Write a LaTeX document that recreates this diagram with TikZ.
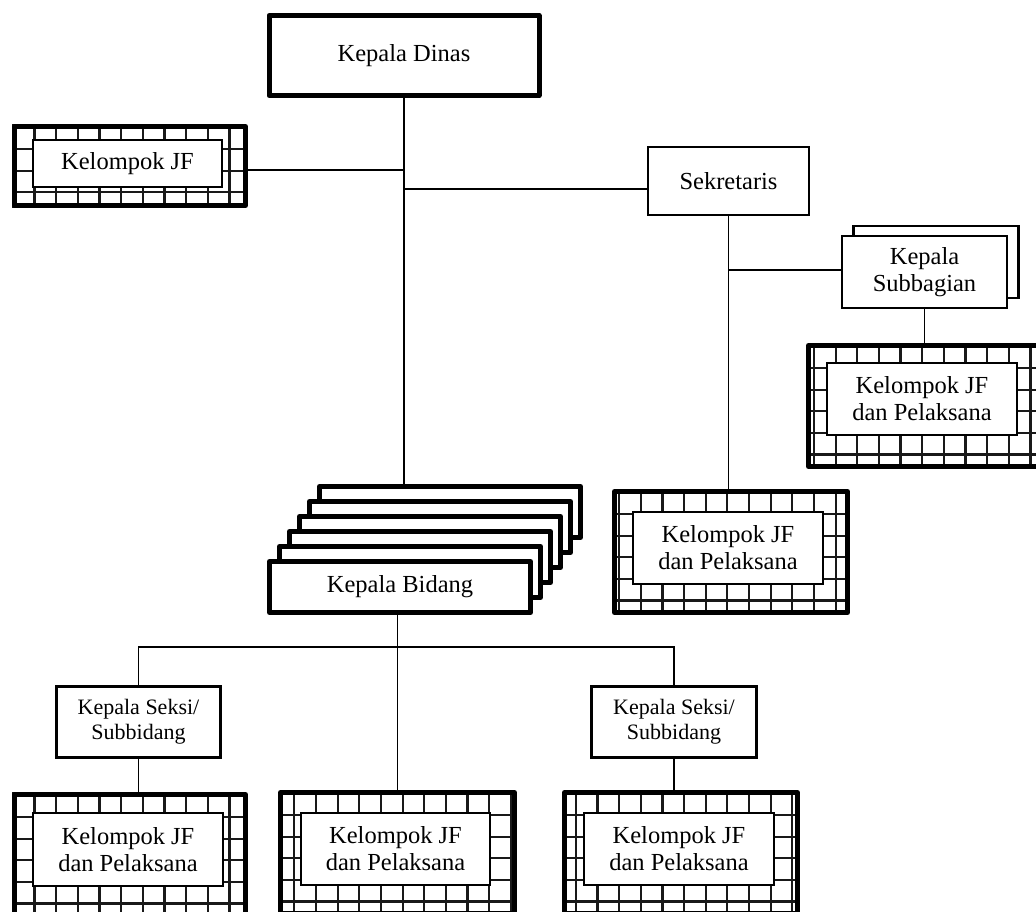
\documentclass[tikz,border=0pt]{standalone}
\usepackage{fontspec}
\setmainfont{Liberation Serif}
\tikzset{
  conn/.style={line width=1.8pt, black},
  mainfont/.style={font=\fontsize{24.5}{27}\selectfont},
  thickbox/.style={draw, line width=5pt, line join=round, fill=white, inner sep=0pt, align=center, mainfont},
  thinbox/.style={draw, line width=2.6pt, fill=white, inner sep=0pt, align=center, mainfont},
  seksibox/.style={thinbox, font=\fontsize{22}{25}\selectfont},
  gridframe/.style={draw, line width=5pt, line join=round, inner sep=0pt},
  innerbox/.style={draw, line width=1.4pt, fill=white, inner sep=0pt, align=center, mainfont},
  gridline/.style={line width=2.2pt, black!90},
}
\newcommand{\gridfill}[4]{%
  \begin{scope}
    \clip (#1,#2) rectangle (#3,#4);
    \foreach \k in {0,...,48}{\draw[gridline] ({12.9+21.65*\k},#2) -- ({12.9+21.65*\k},#4);}
    \foreach \k in {0,...,6}{\draw[gridline] (#1,{#2+25+21.6*\k}) -- (#3,{#2+25+21.6*\k});}
  \end{scope}}
\begin{document}
\begin{tikzpicture}[x=1pt,y=-1pt]
\useasboundingbox (0,0) rectangle (1036,911);

% ---------- boxes ----------
\node[thickbox, minimum width=270pt, minimum height=80pt] (kd) at (404,55.5) {Kepala Dinas};

\gridfill{12}{124}{248}{208}
\node[gridframe, minimum width=231pt, minimum height=79pt] (kjf0) at (130,166) {};
\node[innerbox, minimum width=189pt, minimum height=47pt] (kjf0in) at (127.5,163.5) {Kelompok JF};

\node[thinbox, minimum width=161pt, minimum height=68pt] (sek) at (728.5,181) {Sekretaris};

\node[thinbox, minimum width=165pt, minimum height=72pt] (ksubb) at (936,262) {};
\node[thinbox, minimum width=165pt, minimum height=72pt] (ksub) at (924.5,272) {Kepala\\Subbagian};

\gridfill{806}{343}{1044}{469}
\node[gridframe, minimum width=233pt, minimum height=121pt] (kjf1) at (925,406) {};
\node[innerbox, minimum width=190pt, minimum height=72pt] (kjf1in) at (922,399) {Kelompok JF\\dan Pelaksana};

\gridfill{612}{489}{850}{615}
\node[gridframe, minimum width=233pt, minimum height=121pt] (kjf2) at (731,552) {};
\node[innerbox, minimum width=190pt, minimum height=72pt] (kjf2in) at (728,548) {Kelompok JF\\dan Pelaksana};

\foreach \k in {5,4,3,2,1}{
  \node[thickbox, minimum width=261pt, minimum height=51pt] (kb\k) at ({400+10*\k},{587-15*\k}) {};
}
\node[thickbox, minimum width=261pt, minimum height=51pt] (kb0) at (400,587) {Kepala Bidang};

\node[seksibox, minimum width=164.5pt, minimum height=71.5pt] (ks1) at (138.5,722) {Kepala Seksi/\\Subbidang};
\node[seksibox, minimum width=164.5pt, minimum height=71.5pt] (ks2) at (674,722) {Kepala Seksi/\\Subbidang};

\gridfill{12}{792}{248}{918}
\node[gridframe, minimum width=231pt, minimum height=121pt] (kjfb1) at (130,855) {};
\node[innerbox, minimum width=190pt, minimum height=73pt] (kjfb1in) at (128,849.5) {Kelompok JF\\dan Pelaksana};

\gridfill{278}{790}{517}{916}
\node[gridframe, minimum width=234pt, minimum height=121pt] (kjfb2) at (397.5,853) {};
\node[innerbox, minimum width=189pt, minimum height=72pt] (kjfb2in) at (395.5,849) {Kelompok JF\\dan Pelaksana};

\gridfill{562}{790}{800}{916}
\node[gridframe, minimum width=233pt, minimum height=121pt] (kjfb3) at (681,853) {};
\node[innerbox, minimum width=190pt, minimum height=72pt] (kjfb3in) at (679,849) {Kelompok JF\\dan Pelaksana};

% ---------- connectors ----------
\coordinate (j0) at (404,170);
\coordinate (j1) at (404,189);
\coordinate (j2) at (728.5,270);
\coordinate (bus) at (397.5,647);
\draw[conn] (kd.south) -- (kd.south |- kb5.north);
\draw[conn] (j0) -- (j0 -| kjf0.east);
\draw[conn] (j1) -- (j1 -| sek.west);
\draw[conn] (sek.south) -- (sek.south |- kjf2.north);
\draw[conn] (j2) -- (j2 -| ksub.west);
\draw[conn] (ksub.south) -- (ksub.south |- kjf1.north);
\draw[conn] (kjfb2.north) -- (kjfb2.north |- kb0.south);
\draw[conn] (ks1.north) -- (ks1.north |- bus) -- (ks2.north |- bus) -- (ks2.north);
\draw[conn] (ks1.south) -- (ks1.south |- kjfb1.north);
\draw[conn] (ks2.south) -- (ks2.south |- kjfb3.north);
\end{tikzpicture}
\end{document}
